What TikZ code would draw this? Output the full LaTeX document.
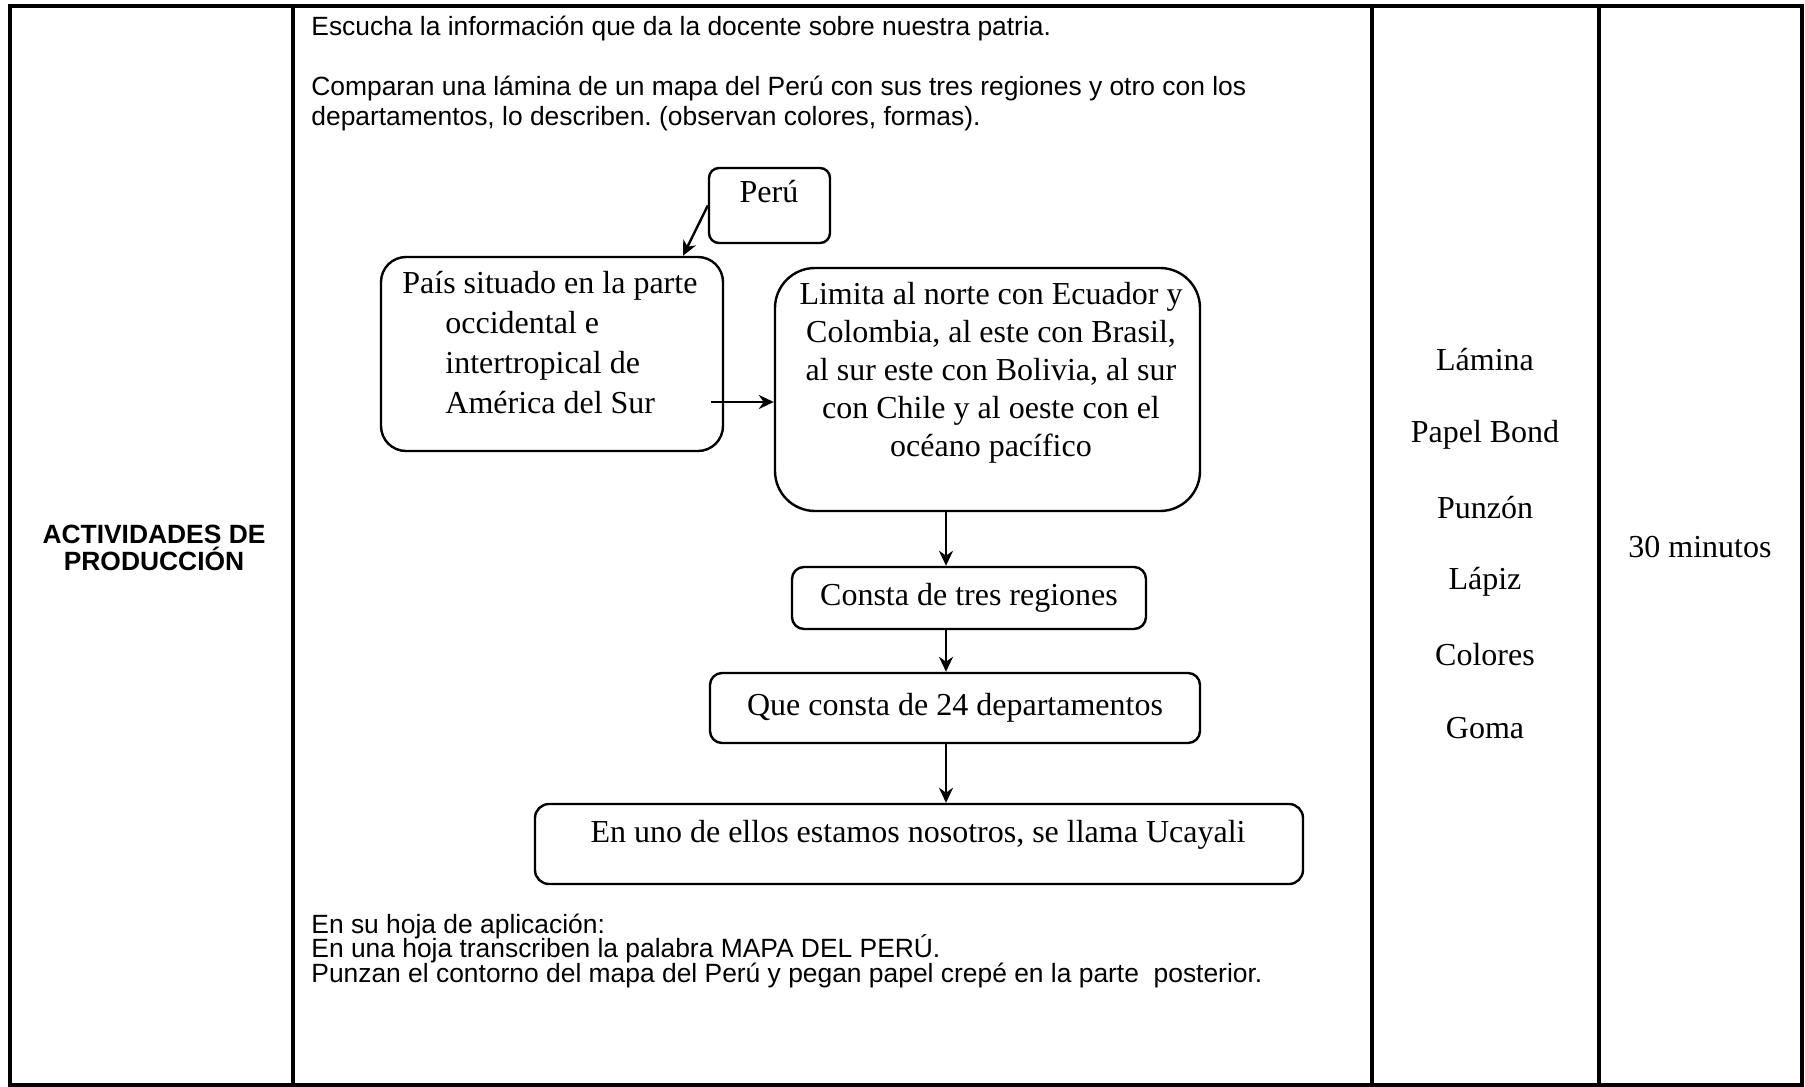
\documentclass[tikz,border=0pt]{standalone}
\usepackage{fontspec}
\setmainfont{Liberation Serif}
\newfontfamily\arialfont{Liberation Sans}
\usetikzlibrary{arrows.meta}
\frenchspacing
\newcommand\tightlines{\lineskiplimit-20pt\relax}
\tikzset{
  box/.style={draw, line width=1.2pt, inner sep=0pt},
  arrow/.style={-{Stealth[length=7.5pt,width=7pt]}, line width=1.2pt},
  serif/.style={font=\fontsize{16}{19}\selectfont, inner sep=0pt},
  sans/.style={font=\arialfont\fontsize{13.2}{15}\selectfont, inner sep=0pt}}

\begin{document}
\begin{tikzpicture}[x=0.5pt, y=-0.5pt]
    \useasboundingbox (0,0) rectangle (1805,1087);
    \draw[line width=2pt] (10,6) rectangle (1802,1085);
    \draw[line width=2pt] (293,6) -- (293,1085);
    \draw[line width=2pt] (1372,6) -- (1372,1085);
    \draw[line width=2pt] (1599,6) -- (1599,1085);
    \node[inner sep=0pt, align=center, font=\arialfont\bfseries\fontsize{13.2}{13.5}\selectfont] (titulo) at (154,548) {ACTIVIDADES DE\\PRODUCCIÓN};
    \node[sans, anchor=west] (escucha) at (311,29) {Escucha la información que da la docente sobre nuestra patria.};
    \node[sans, anchor=west, align=left] (comparan) at (311,104) {Comparan una lámina de un mapa del Perú con sus tres regiones y otro con los\\departamentos, lo describen. (observan colores, formas).};
    \node[box, rounded corners=5pt, minimum width=60.5pt, minimum height=37.5pt] (peru) at (769.5,205.5) {};
    \node[serif] (perutxt) at (769,192) {Perú};
    \node[box, rounded corners=12.5pt, minimum width=171pt, minimum height=97pt] (pais) at (552,354) {};
    \node[serif, anchor=west, align=left, font=\fontsize{16}{20}\selectfont] (paistxt) at (402,343) {País situado en la parte\\\hspace*{21.5pt}occidental e\\\hspace*{21.5pt}intertropical de\\\hspace*{21.5pt}América del Sur};
    \node[box, rounded corners=20pt, minimum width=212.5pt, minimum height=121.5pt] (limita) at (987.5,389.5) {};
    \node[serif, align=center] (limitatxt) at (991,373) {Limita al norte con Ecuador y\\Colombia, al este con Brasil,\\al sur este con Bolivia, al sur\\con Chile y al oeste con el\\océano pacífico};
    \node[box, serif, rounded corners=6pt, minimum width=177pt, minimum height=31pt] (consta) at (969,598) {Consta de tres regiones};
    \node[box, serif, rounded corners=6pt, minimum width=245pt, minimum height=35pt] (que) at (955,708) {Que consta de 24 departamentos};
    \node[box, rounded corners=7pt, minimum width=384pt, minimum height=40pt] (enuno) at (919,844) {};
    \node[serif] (enunotxt) at (918,835) {En uno de ellos estamos nosotros, se llama Ucayali};
    \coordinate (salida) at ([shift={(-13,48)}]pais.east);
    \draw[arrow] (peru.west) -- ([xshift=65.5pt]pais.north);
    \draw[arrow] (salida) -- (salida -| limita.west);
    \draw[arrow] ([xshift=-20.75pt]limita.south) -- ([xshift=-20.75pt]limita.south |- consta.north);
    \draw[arrow] ([xshift=-11.5pt]consta.south) -- ([xshift=-11.5pt]consta.south |- que.north);
    \draw[arrow] ([xshift=-4.5pt]que.south) -- ([xshift=-4.5pt]que.south |- enuno.north);
    \node[sans, anchor=west, align=left, font=\arialfont\fontsize{13.2}{12.2}\selectfont\tightlines] (hoja) at (311,951) {En su hoja de aplicación:\\En una hoja transcriben la palabra MAPA DEL PERÚ.\\Punzan el contorno del mapa del Perú y pegan papel crepé en la parte~ posterior.};
    \node[serif] (lamina) at (1485,360) {Lámina};
    \node[serif] (papel) at (1485,435) {Papel Bond};
    \node[serif] (punzon) at (1485,508) {Punzón};
    \node[serif] (lapiz) at (1485,582) {Lápiz};
    \node[serif] (colores) at (1485,655) {Colores};
    \node[serif] (goma) at (1485,728) {Goma};
    \node[serif] (tiempo) at (1700,547) {30 minutos};
\end{tikzpicture}
\end{document}
